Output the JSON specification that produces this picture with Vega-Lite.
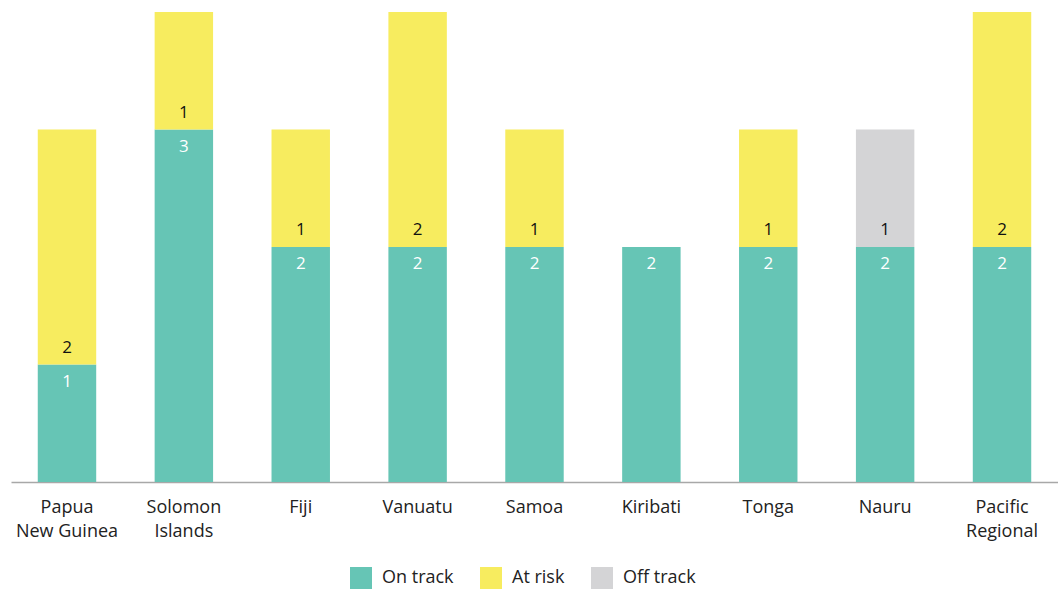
{
  "$schema": "https://vega.github.io/schema/vega-lite/v6.json",
  "width": 1047,
  "height": 470,
  "autosize": "none",
  "padding": {"left": 11, "top": 12, "right": 0, "bottom": 110},
  "config": {
    "view": {"stroke": null},
    "font": "Open Sans"
  },
  "data": {
    "values": [
      {"country": "Papua New Guinea", "status": "On track", "value": 1},
      {"country": "Papua New Guinea", "status": "At risk", "value": 2},
      {"country": "Solomon Islands", "status": "On track", "value": 3},
      {"country": "Solomon Islands", "status": "At risk", "value": 1},
      {"country": "Fiji", "status": "On track", "value": 2},
      {"country": "Fiji", "status": "At risk", "value": 1},
      {"country": "Vanuatu", "status": "On track", "value": 2},
      {"country": "Vanuatu", "status": "At risk", "value": 2},
      {"country": "Samoa", "status": "On track", "value": 2},
      {"country": "Samoa", "status": "At risk", "value": 1},
      {"country": "Kiribati", "status": "On track", "value": 2},
      {"country": "Tonga", "status": "On track", "value": 2},
      {"country": "Tonga", "status": "At risk", "value": 1},
      {"country": "Nauru", "status": "On track", "value": 2},
      {"country": "Nauru", "status": "Off track", "value": 1},
      {"country": "Pacific Regional", "status": "On track", "value": 2},
      {"country": "Pacific Regional", "status": "At risk", "value": 2}
    ]
  },
  "transform": [
    {"stack": "value", "groupby": ["country"], "sort": [{"field": "status", "order": "descending"}], "as": ["y0", "y1"]}
  ],
  "encoding": {
    "x": {
      "field": "country",
      "type": "nominal",
      "sort": null,
      "scale": {"paddingInner": 0.5, "paddingOuter": 0.229},
      "axis": {
        "title": null,
        "labelAngle": 0,
        "ticks": false,
        "domainColor": "#a8a8a8",
        "domainWidth": 1.5,
        "labelFontSize": 18,
        "labelColor": "#222222",
        "labelPadding": 16,
        "labelLineHeight": 24,
        "labelExpr": "datum.label == 'Papua New Guinea' ? ['Papua', 'New Guinea'] : split(datum.label, ' ')"
      }
    }
  },
  "layer": [
    {
      "mark": {"type": "bar"},
      "encoding": {
        "y": {"field": "y0", "type": "quantitative", "scale": {"domain": [0, 4], "nice": false}, "axis": null},
        "y2": {"field": "y1"},
        "color": {
          "field": "status",
          "type": "nominal",
          "scale": {"domain": ["On track", "At risk", "Off track"], "range": ["#66c5b5", "#f7ec5f", "#d4d4d6"]},
          "legend": {
            "title": null,
            "orient": "none",
            "legendX": 339,
            "legendY": 555,
            "padding": 0,
            "direction": "horizontal",
            "symbolType": "square",
            "symbolSize": 484,
            "symbolStrokeWidth": 0,
            "labelFontSize": 18,
            "labelColor": "#222222",
            "labelOffset": 10,
            "columnPadding": 26
          }
        }
      }
    },
    {
      "transform": [{"filter": "datum.status == 'On track'"}],
      "mark": {"type": "text", "dy": 17, "fontSize": 17, "color": "#ffffff"},
      "encoding": {
        "y": {"field": "y1", "type": "quantitative"},
        "text": {"field": "value", "type": "quantitative"}
      }
    },
    {
      "transform": [{"filter": "datum.status != 'On track'"}],
      "mark": {"type": "text", "dy": -17, "fontSize": 17, "color": "#111111"},
      "encoding": {
        "y": {"field": "y0", "type": "quantitative"},
        "text": {"field": "value", "type": "quantitative"}
      }
    }
  ]
}
